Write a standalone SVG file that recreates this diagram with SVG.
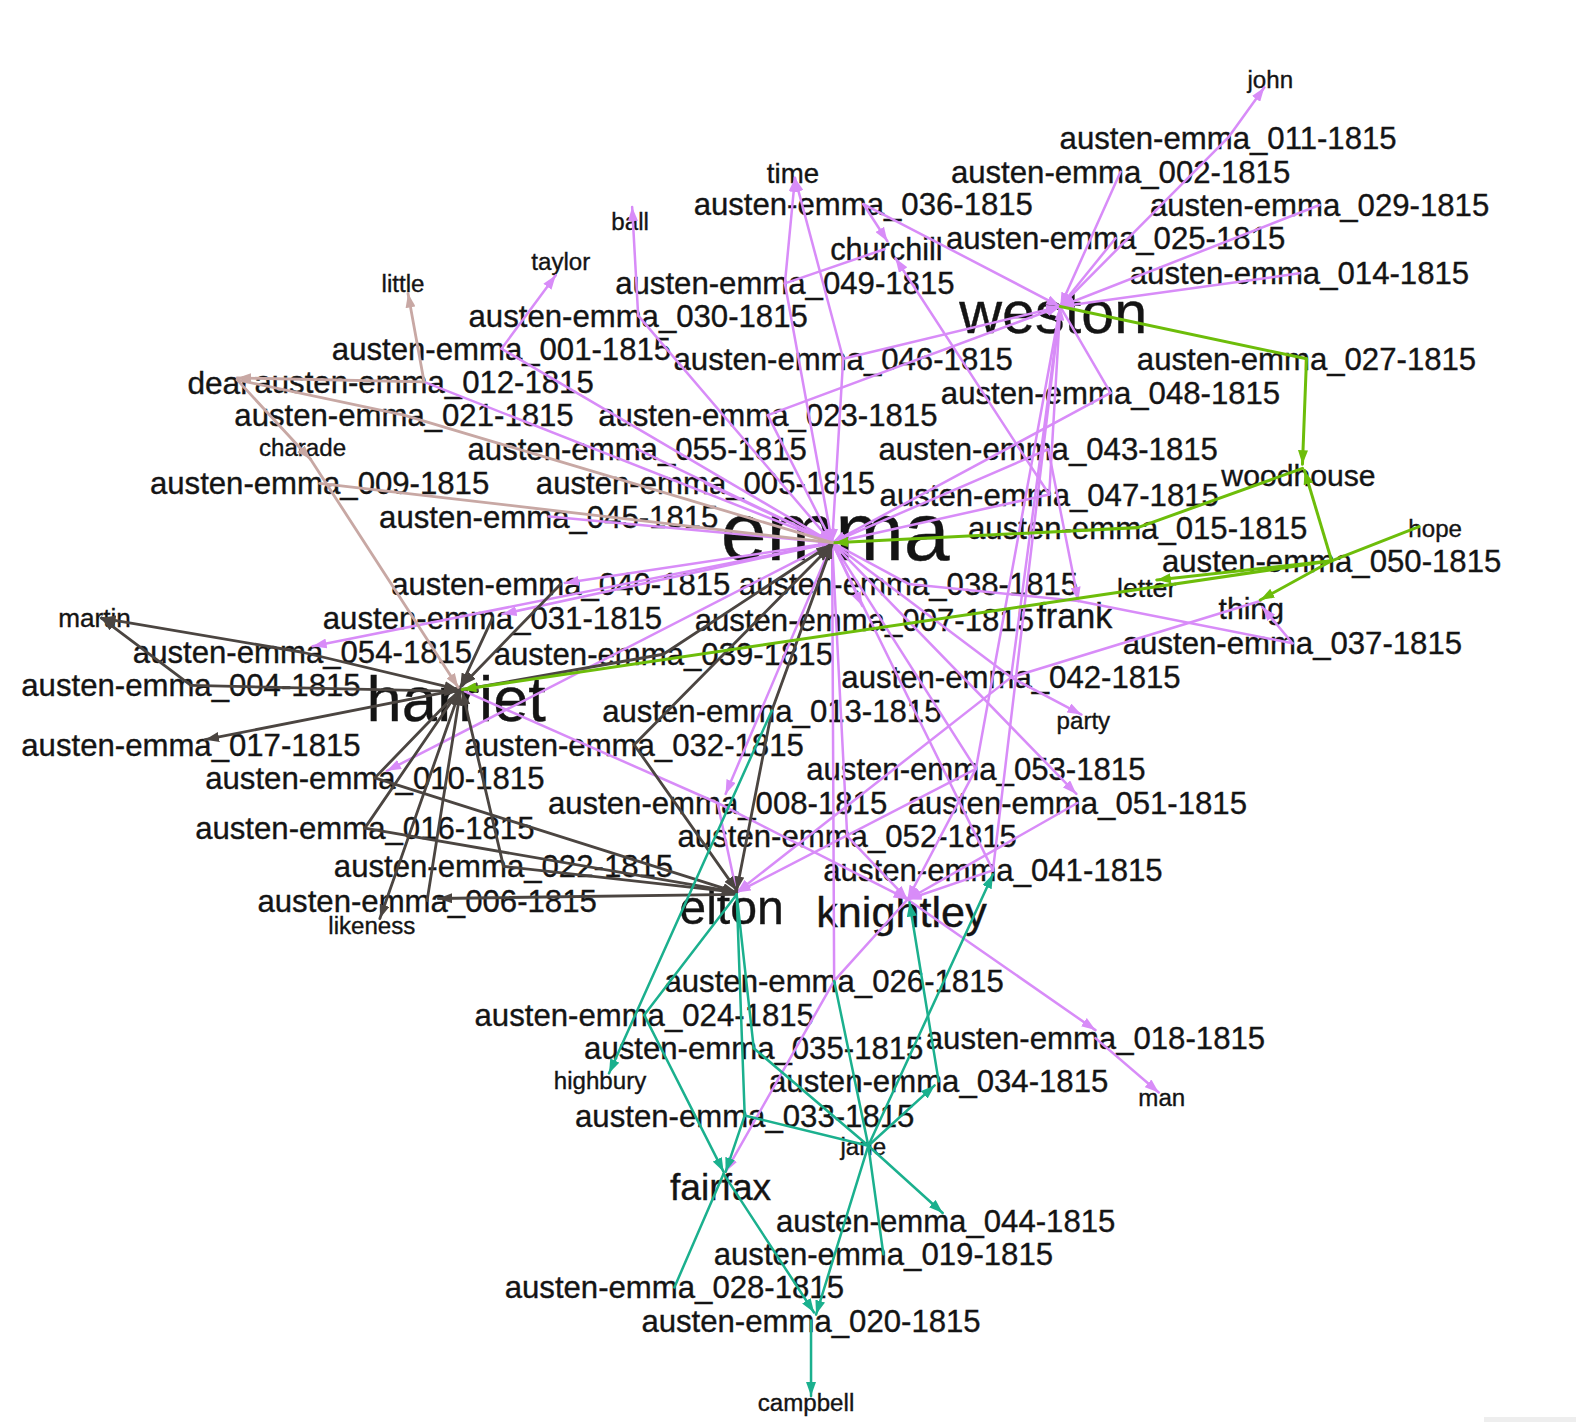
<svg xmlns="http://www.w3.org/2000/svg" width="1576" height="1422" viewBox="0 0 1576 1422">
<style>
text{font-family:"Liberation Sans",Arial,sans-serif;fill:#141414;stroke:#141414;stroke-width:0.35px;text-anchor:middle}
.doc{font-size:31px}
.sm{font-size:24px}
line{fill:none;stroke-linecap:round}
.p{stroke:#d88cf8;stroke-width:2.5}
.d{stroke:#4b4541;stroke-width:2.8}
.t{stroke:#1bb08e;stroke-width:2.5}
.g{stroke:#6dbd0a;stroke-width:3}
.b{stroke:#c8a8a4;stroke-width:2.8}
</style>
<defs>
<marker id="ap" viewBox="0 0 14 10" refX="14" refY="5" markerWidth="14" markerHeight="10" markerUnits="userSpaceOnUse" orient="auto"><path d="M0,0L14,5L0,10z" fill="#d88cf8"/></marker>
<marker id="ad" viewBox="0 0 14 10" refX="14" refY="5" markerWidth="14" markerHeight="10" markerUnits="userSpaceOnUse" orient="auto"><path d="M0,0L14,5L0,10z" fill="#4b4541"/></marker>
<marker id="at" viewBox="0 0 14 10" refX="14" refY="5" markerWidth="14" markerHeight="10" markerUnits="userSpaceOnUse" orient="auto"><path d="M0,0L14,5L0,10z" fill="#1bb08e"/></marker>
<marker id="ag" viewBox="0 0 14 10" refX="14" refY="5" markerWidth="14" markerHeight="10" markerUnits="userSpaceOnUse" orient="auto"><path d="M0,0L14,5L0,10z" fill="#6dbd0a"/></marker>
<marker id="ab" viewBox="0 0 14 10" refX="14" refY="5" markerWidth="14" markerHeight="10" markerUnits="userSpaceOnUse" orient="auto"><path d="M0,0L14,5L0,10z" fill="#c8a8a4"/></marker>
</defs>
<rect width="1576" height="1422" fill="#ffffff"/>
<rect x="1484" y="1417" width="92" height="5" fill="#eeeeee"/>
<g transform="scale(1.005)">
<g id="nodes">
<g id="n-emma"><text x="831" y="557" font-size="82">emma</text></g>
<g id="n-weston"><text x="1048" y="331" font-size="59">weston</text></g>
<g id="n-harriet"><text x="454" y="717" font-size="63">harriet</text></g>
<g id="n-elton"><text x="728" y="919" font-size="48">elton</text></g>
<g id="n-knightley"><text x="897" y="922" font-size="43">knightley</text></g>
<g id="n-fairfax"><text x="717" y="1194" font-size="37">fairfax</text></g>
<g id="n-frank"><text x="1069" y="625" font-size="34">frank</text></g>
<g id="n-woodhouse"><text x="1292" y="484" font-size="30">woodhouse</text></g>
<g id="n-thing"><text x="1245" y="616" font-size="30">thing</text></g>
<g id="n-churchill"><text x="882" y="259" font-size="30.5">churchill</text></g>
<g id="n-letter"><text x="1141" y="594" font-size="26.5">letter</text></g>
<g id="n-time"><text x="789" y="182" font-size="27.5">time</text></g>
<g id="n-dear"><text x="218" y="392" font-size="31.5">dear</text></g>
<g id="n-party"><text class="sm" x="1078" y="725">party</text></g>
<g id="n-man"><text class="sm" x="1156" y="1100">man</text></g>
<g id="n-jane"><text class="sm" x="859" y="1149">jane</text></g>
<g id="n-hope"><text class="sm" x="1428" y="534">hope</text></g>
<g id="n-martin"><text x="94" y="624" font-size="26">martin</text></g>
<g id="n-charade"><text class="sm" x="301" y="454">charade</text></g>
<g id="n-little"><text class="sm" x="401" y="291">little</text></g>
<g id="n-taylor"><text class="sm" x="558" y="269">taylor</text></g>
<g id="n-ball"><text class="sm" x="627" y="229">ball</text></g>
<g id="n-john"><text class="sm" x="1264" y="88">john</text></g>
<g id="n-highbury"><text class="sm" x="597" y="1084">highbury</text></g>
<g id="n-likeness"><text class="sm" x="370" y="929">likeness</text></g>
<g id="n-campbell"><text class="sm" x="802" y="1404">campbell</text></g>
<g id="n-001"><text class="doc" x="499" y="358">austen-emma_001-1815</text></g>
<g id="n-002"><text class="doc" x="1115" y="182">austen-emma_002-1815</text></g>
<g id="n-004"><text class="doc" x="190" y="693">austen-emma_004-1815</text></g>
<g id="n-005"><text class="doc" x="702" y="492">austen-emma_005-1815</text></g>
<g id="n-006"><text class="doc" x="425" y="907">austen-emma_006-1815</text></g>
<g id="n-007"><text class="doc" x="860" y="628">austen-emma_007-1815</text></g>
<g id="n-008"><text class="doc" x="714" y="810">austen-emma_008-1815</text></g>
<g id="n-009"><text class="doc" x="318" y="492">austen-emma_009-1815</text></g>
<g id="n-010"><text class="doc" x="373" y="785">austen-emma_010-1815</text></g>
<g id="n-011"><text class="doc" x="1222" y="148">austen-emma_011-1815</text></g>
<g id="n-012"><text class="doc" x="422" y="391">austen-emma_012-1815</text></g>
<g id="n-013"><text class="doc" x="768" y="718">austen-emma_013-1815</text></g>
<g id="n-014"><text class="doc" x="1293" y="283">austen-emma_014-1815</text></g>
<g id="n-015"><text class="doc" x="1132" y="536">austen-emma_015-1815</text></g>
<g id="n-016"><text class="doc" x="363" y="835">austen-emma_016-1815</text></g>
<g id="n-017"><text class="doc" x="190" y="752">austen-emma_017-1815</text></g>
<g id="n-018"><text class="doc" x="1090" y="1044">austen-emma_018-1815</text></g>
<g id="n-019"><text class="doc" x="879" y="1259">austen-emma_019-1815</text></g>
<g id="n-020"><text class="doc" x="807" y="1325">austen-emma_020-1815</text></g>
<g id="n-021"><text class="doc" x="402" y="424">austen-emma_021-1815</text></g>
<g id="n-022"><text class="doc" x="501" y="873">austen-emma_022-1815</text></g>
<g id="n-023"><text class="doc" x="764" y="424">austen-emma_023-1815</text></g>
<g id="n-024"><text class="doc" x="641" y="1021">austen-emma_024-1815</text></g>
<g id="n-025"><text class="doc" x="1110" y="248">austen-emma_025-1815</text></g>
<g id="n-026"><text class="doc" x="830" y="987">austen-emma_026-1815</text></g>
<g id="n-027"><text class="doc" x="1300" y="368">austen-emma_027-1815</text></g>
<g id="n-028"><text class="doc" x="671" y="1292">austen-emma_028-1815</text></g>
<g id="n-029"><text class="doc" x="1313" y="215">austen-emma_029-1815</text></g>
<g id="n-030"><text class="doc" x="635" y="325">austen-emma_030-1815</text></g>
<g id="n-031"><text class="doc" x="490" y="626">austen-emma_031-1815</text></g>
<g id="n-032"><text class="doc" x="631" y="752">austen-emma_032-1815</text></g>
<g id="n-033"><text class="doc" x="741" y="1121">austen-emma_033-1815</text></g>
<g id="n-034"><text class="doc" x="934" y="1087">austen-emma_034-1815</text></g>
<g id="n-035"><text class="doc" x="750" y="1054">austen-emma_035-1815</text></g>
<g id="n-036"><text class="doc" x="859" y="214">austen-emma_036-1815</text></g>
<g id="n-037"><text class="doc" x="1286" y="651">austen-emma_037-1815</text></g>
<g id="n-038"><text class="doc" x="904" y="592">austen-emma_038-1815</text></g>
<g id="n-039"><text class="doc" x="660" y="662">austen-emma_039-1815</text></g>
<g id="n-040"><text class="doc" x="558" y="592">austen-emma_040-1815</text></g>
<g id="n-041"><text class="doc" x="988" y="877">austen-emma_041-1815</text></g>
<g id="n-042"><text class="doc" x="1006" y="685">austen-emma_042-1815</text></g>
<g id="n-043"><text class="doc" x="1043" y="458">austen-emma_043-1815</text></g>
<g id="n-044"><text class="doc" x="941" y="1226">austen-emma_044-1815</text></g>
<g id="n-045"><text class="doc" x="546" y="525">austen-emma_045-1815</text></g>
<g id="n-046"><text class="doc" x="839" y="368">austen-emma_046-1815</text></g>
<g id="n-047"><text class="doc" x="1044" y="503">austen-emma_047-1815</text></g>
<g id="n-048"><text class="doc" x="1105" y="402">austen-emma_048-1815</text></g>
<g id="n-049"><text class="doc" x="781" y="293">austen-emma_049-1815</text></g>
<g id="n-050"><text class="doc" x="1325" y="569">austen-emma_050-1815</text></g>
<g id="n-051"><text class="doc" x="1072" y="810">austen-emma_051-1815</text></g>
<g id="n-052"><text class="doc" x="843" y="843">austen-emma_052-1815</text></g>
<g id="n-053"><text class="doc" x="971" y="776">austen-emma_053-1815</text></g>
<g id="n-054"><text class="doc" x="301" y="660">austen-emma_054-1815</text></g>
<g id="n-055"><text class="doc" x="634" y="458">austen-emma_055-1815</text></g>
</g>
<g id="connectors">
<line class="p" x1="1222" y1="137" x2="1258" y2="87" marker-end="url(#ap)"/>
<line class="p" x1="1222" y1="137" x2="1055" y2="305" marker-end="url(#ap)"/>
<line class="p" x1="1115" y1="171" x2="1055" y2="305" marker-end="url(#ap)"/>
<line class="p" x1="1313" y1="204" x2="1055" y2="305" marker-end="url(#ap)"/>
<line class="p" x1="1110" y1="237" x2="1055" y2="305" marker-end="url(#ap)"/>
<line class="p" x1="1293" y1="272" x2="1055" y2="305" marker-end="url(#ap)"/>
<line class="p" x1="859" y1="203" x2="883" y2="240" marker-end="url(#ap)"/>
<line class="p" x1="859" y1="203" x2="1055" y2="305" marker-end="url(#ap)"/>
<line class="p" x1="781" y1="282" x2="791" y2="177" marker-end="url(#ap)"/>
<line class="p" x1="781" y1="282" x2="880" y2="248"/>
<line class="p" x1="781" y1="282" x2="828" y2="540" marker-end="url(#ap)"/>
<line class="p" x1="839" y1="357" x2="791" y2="177" marker-end="url(#ap)"/>
<line class="p" x1="839" y1="357" x2="1055" y2="305" marker-end="url(#ap)"/>
<line class="p" x1="839" y1="357" x2="828" y2="540" marker-end="url(#ap)"/>
<line class="p" x1="635" y1="314" x2="629" y2="206" marker-end="url(#ap)"/>
<line class="p" x1="635" y1="314" x2="828" y2="540" marker-end="url(#ap)"/>
<line class="p" x1="499" y1="347" x2="553" y2="274" marker-end="url(#ap)"/>
<line class="p" x1="499" y1="347" x2="828" y2="540" marker-end="url(#ap)"/>
<line class="p" x1="422" y1="380" x2="828" y2="540" marker-end="url(#ap)"/>
<line class="p" x1="764" y1="413" x2="1055" y2="305" marker-end="url(#ap)"/>
<line class="p" x1="764" y1="413" x2="828" y2="540" marker-end="url(#ap)"/>
<line class="p" x1="634" y1="447" x2="828" y2="540" marker-end="url(#ap)"/>
<line class="p" x1="702" y1="481" x2="828" y2="540" marker-end="url(#ap)"/>
<line class="p" x1="546" y1="514" x2="828" y2="540" marker-end="url(#ap)"/>
<line class="p" x1="1105" y1="391" x2="1055" y2="305"/>
<line class="p" x1="1105" y1="391" x2="828" y2="540" marker-end="url(#ap)"/>
<line class="p" x1="1043" y1="447" x2="828" y2="540" marker-end="url(#ap)"/>
<line class="p" x1="1043" y1="447" x2="1073" y2="598" marker-end="url(#ap)"/>
<line class="p" x1="1044" y1="492" x2="828" y2="540" marker-end="url(#ap)"/>
<line class="p" x1="1044" y1="492" x2="891" y2="257" marker-end="url(#ap)"/>
<line class="p" x1="1006" y1="674" x2="1055" y2="305"/>
<line class="p" x1="988" y1="866" x2="1055" y2="305"/>
<line class="p" x1="971" y1="765" x2="1055" y2="305"/>
<line class="p" x1="1044" y1="492" x2="1055" y2="305" marker-end="url(#ap)"/>
<line class="p" x1="828" y1="540" x2="562" y2="580" marker-end="url(#ap)"/>
<line class="p" x1="828" y1="540" x2="500" y2="611" marker-end="url(#ap)"/>
<line class="p" x1="828" y1="540" x2="311" y2="643" marker-end="url(#ap)"/>
<line class="p" x1="828" y1="540" x2="385" y2="767" marker-end="url(#ap)"/>
<line class="p" x1="828" y1="540" x2="858" y2="603" marker-end="url(#ap)"/>
<line class="p" x1="828" y1="540" x2="722" y2="790" marker-end="url(#ap)"/>
<line class="p" x1="828" y1="540" x2="1071" y2="790" marker-end="url(#ap)"/>
<line class="p" x1="904" y1="581" x2="828" y2="540"/>
<line class="p" x1="904" y1="581" x2="1073" y2="598"/>
<line class="p" x1="1286" y1="640" x2="1256" y2="604" marker-end="url(#ap)"/>
<line class="p" x1="1286" y1="640" x2="1073" y2="598"/>
<line class="p" x1="1006" y1="674" x2="1254" y2="598"/>
<line class="p" x1="1006" y1="674" x2="1076" y2="711" marker-end="url(#ap)"/>
<line class="p" x1="1006" y1="674" x2="733" y2="888" marker-end="url(#ap)"/>
<line class="p" x1="1006" y1="674" x2="828" y2="540"/>
<line class="p" x1="714" y1="799" x2="733" y2="888" marker-end="url(#ap)"/>
<line class="p" x1="714" y1="799" x2="903" y2="895" marker-end="url(#ap)"/>
<line class="p" x1="458" y1="686" x2="714" y2="799"/>
<line class="p" x1="1072" y1="799" x2="903" y2="895" marker-end="url(#ap)"/>
<line class="p" x1="843" y1="832" x2="903" y2="895" marker-end="url(#ap)"/>
<line class="p" x1="843" y1="832" x2="828" y2="540"/>
<line class="p" x1="971" y1="765" x2="733" y2="888" marker-end="url(#ap)"/>
<line class="p" x1="971" y1="765" x2="903" y2="895" marker-end="url(#ap)"/>
<line class="p" x1="971" y1="765" x2="828" y2="540"/>
<line class="p" x1="988" y1="866" x2="903" y2="895" marker-end="url(#ap)"/>
<line class="p" x1="988" y1="866" x2="828" y2="540"/>
<line class="p" x1="830" y1="976" x2="903" y2="895"/>
<line class="p" x1="830" y1="976" x2="722" y2="1166" marker-end="url(#ap)"/>
<line class="p" x1="830" y1="976" x2="828" y2="540"/>
<line class="p" x1="903" y1="895" x2="1090" y2="1025" marker-end="url(#ap)"/>
<line class="p" x1="1090" y1="1033" x2="1153" y2="1087" marker-end="url(#ap)"/>
<line class="d" x1="558" y1="581" x2="460" y2="682" marker-end="url(#ad)"/>
<line class="d" x1="490" y1="615" x2="458" y2="684" marker-end="url(#ad)"/>
<line class="d" x1="660" y1="651" x2="462" y2="686" marker-end="url(#ad)"/>
<line class="d" x1="660" y1="651" x2="826" y2="542" marker-end="url(#ad)"/>
<line class="d" x1="631" y1="741" x2="826" y2="544" marker-end="url(#ad)"/>
<line class="d" x1="631" y1="741" x2="733" y2="886" marker-end="url(#ad)"/>
<line class="d" x1="768" y1="707" x2="828" y2="542" marker-end="url(#ad)"/>
<line class="d" x1="768" y1="707" x2="733" y2="886" marker-end="url(#ad)"/>
<line class="d" x1="190" y1="682" x2="101" y2="615" marker-end="url(#ad)"/>
<line class="d" x1="190" y1="682" x2="456" y2="688" marker-end="url(#ad)"/>
<line class="d" x1="301" y1="649" x2="101" y2="615" marker-end="url(#ad)"/>
<line class="d" x1="301" y1="649" x2="456" y2="686" marker-end="url(#ad)"/>
<line class="d" x1="458" y1="686" x2="204" y2="736" marker-end="url(#ad)"/>
<line class="d" x1="458" y1="686" x2="373" y2="774"/>
<line class="d" x1="373" y1="774" x2="733" y2="888" marker-end="url(#ad)"/>
<line class="d" x1="458" y1="686" x2="378" y2="914" marker-end="url(#ad)"/>
<line class="d" x1="425" y1="896" x2="458" y2="688" marker-end="url(#ad)"/>
<line class="d" x1="733" y1="890" x2="436" y2="894" marker-end="url(#ad)"/>
<line class="d" x1="363" y1="824" x2="456" y2="688" marker-end="url(#ad)"/>
<line class="d" x1="363" y1="824" x2="733" y2="888" marker-end="url(#ad)"/>
<line class="d" x1="501" y1="862" x2="460" y2="688" marker-end="url(#ad)"/>
<line class="d" x1="501" y1="862" x2="733" y2="888" marker-end="url(#ad)"/>
<line class="t" x1="768" y1="707" x2="606" y2="1068" marker-end="url(#at)"/>
<line class="t" x1="641" y1="1010" x2="720" y2="1166" marker-end="url(#at)"/>
<line class="t" x1="641" y1="1010" x2="733" y2="890"/>
<line class="t" x1="733" y1="890" x2="741" y2="1110"/>
<line class="t" x1="741" y1="1110" x2="722" y2="1166" marker-end="url(#at)"/>
<line class="t" x1="741" y1="1110" x2="864" y2="1140"/>
<line class="t" x1="733" y1="890" x2="750" y2="1043"/>
<line class="t" x1="750" y1="1043" x2="864" y2="1140"/>
<line class="t" x1="830" y1="976" x2="864" y2="1140"/>
<line class="t" x1="864" y1="1140" x2="930" y2="1080" marker-end="url(#at)"/>
<line class="t" x1="934" y1="1076" x2="905" y2="898" marker-end="url(#at)"/>
<line class="t" x1="864" y1="1140" x2="988" y2="870" marker-end="url(#at)"/>
<line class="t" x1="864" y1="1140" x2="938" y2="1207" marker-end="url(#at)"/>
<line class="t" x1="864" y1="1140" x2="879" y2="1248"/>
<line class="t" x1="864" y1="1140" x2="812" y2="1308" marker-end="url(#at)"/>
<line class="t" x1="720" y1="1168" x2="810" y2="1306" marker-end="url(#at)"/>
<line class="t" x1="720" y1="1168" x2="671" y2="1281"/>
<line class="t" x1="807" y1="1314" x2="807" y2="1389" marker-end="url(#at)"/>
<line class="g" x1="1300" y1="357" x2="1055" y2="305"/>
<line class="g" x1="1300" y1="357" x2="1296" y2="462" marker-end="url(#ag)"/>
<line class="g" x1="1132" y1="525" x2="830" y2="540" marker-end="url(#ag)"/>
<line class="g" x1="1132" y1="525" x2="1296" y2="466"/>
<line class="g" x1="1325" y1="558" x2="1298" y2="468" marker-end="url(#ag)"/>
<line class="g" x1="1325" y1="558" x2="1412" y2="524"/>
<line class="g" x1="1325" y1="558" x2="1151" y2="577" marker-end="url(#ag)"/>
<line class="g" x1="1325" y1="558" x2="1254" y2="597" marker-end="url(#ag)"/>
<line class="g" x1="1325" y1="558" x2="460" y2="686" marker-end="url(#ag)"/>
<line class="b" x1="422" y1="380" x2="406" y2="292" marker-end="url(#ab)"/>
<line class="b" x1="422" y1="380" x2="236" y2="376" marker-end="url(#ab)"/>
<line class="b" x1="402" y1="413" x2="236" y2="378"/>
<line class="b" x1="402" y1="413" x2="828" y2="540"/>
<line class="b" x1="318" y1="481" x2="828" y2="540"/>
<line class="b" x1="236" y1="378" x2="309" y2="457" marker-end="url(#ab)"/>
<line class="b" x1="309" y1="457" x2="456" y2="684" marker-end="url(#ab)"/>
</g>
</g>
</svg>
